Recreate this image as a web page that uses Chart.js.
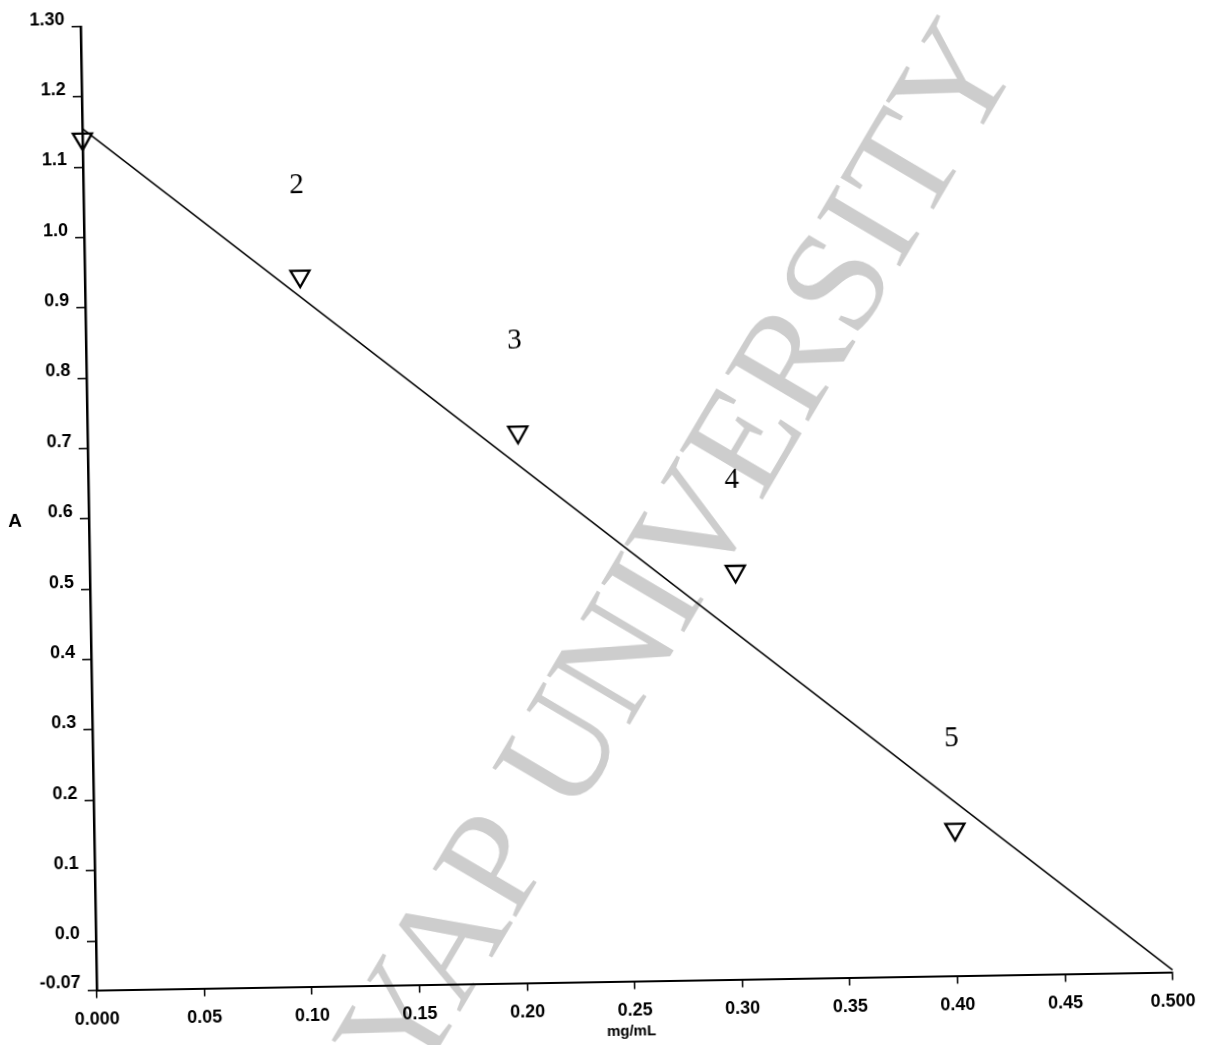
<!DOCTYPE html>
<html>
<head>
<meta charset="utf-8">
<script src="https://cdn.jsdelivr.net/npm/chart.js@4.4.0/dist/chart.umd.min.js"></script>
<style>
html, body { margin: 0; padding: 0; background: #fff; overflow: hidden; }
#absChart { display: block; transform: rotate(-0.96deg); }
</style>
</head>
<body>
<canvas id="absChart" width="1213" height="1045"></canvas>
<script>
// measured points (concentration mg/mL vs absorbance A)
const concX = [0.0, 0.10, 0.20, 0.30, 0.40];
const absY = [1.14, 0.94, 0.713, 0.51, 0.138];
const pointLabels = ['', '2', '3', '4', '5'];

// straight line drawn through the points
const fitX = [0.0, 0.5];
const fitY = [1.155, -0.067];

const xTicks = [0, 0.05, 0.10, 0.15, 0.20, 0.25, 0.30, 0.35, 0.40, 0.45, 0.50];
const xTickLabels = ['0.000', '0.05', '0.10', '0.15', '0.20', '0.25', '0.30', '0.35', '0.40', '0.45', '0.500'];
const yTicks = [-0.07, 0.0, 0.1, 0.2, 0.3, 0.4, 0.5, 0.6, 0.7, 0.8, 0.9, 1.0, 1.1, 1.2, 1.3];
const yTickLabels = ['-0.07', '0.0', '0.1', '0.2', '0.3', '0.4', '0.5', '0.6', '0.7', '0.8', '0.9', '1.0', '1.1', '1.2', '1.30'];

const sansFont = '"Liberation Sans", Arial, sans-serif';
const serifFont = '"Liberation Serif", "Times New Roman", serif';

const watermark = {
    id: 'watermark',
    beforeDraw(chart) {
        const ctx = chart.ctx;
        ctx.save();
        ctx.translate(684, 557);
        ctx.rotate(-58.5 * Math.PI / 180);
        ctx.font = '147px ' + serifFont;
        ctx.fillStyle = '#cdcdcd';
        ctx.textAlign = 'center';
        ctx.textBaseline = 'middle';
        ctx.fillText('YAP UNIVERSITY', 0, 0);
        ctx.restore();
    }
};

const pointNumbers = {
    id: 'pointNumbers',
    afterDatasetsDraw(chart) {
        const ctx = chart.ctx;
        const meta = chart.getDatasetMeta(1);
        ctx.save();
        ctx.font = '29px ' + serifFont;
        ctx.fillStyle = '#000';
        ctx.textAlign = 'center';
        ctx.textBaseline = 'middle';
        meta.data.forEach(function (pt, i) {
            if (!pointLabels[i]) return;
            ctx.fillText(pointLabels[i], pt.x - 2, pt.y - 91);
        });
        ctx.restore();
    }
};

const axisTitles = {
    id: 'axisTitles',
    afterDraw(chart) {
        const ctx = chart.ctx;
        ctx.save();
        ctx.fillStyle = '#000';
        ctx.textAlign = 'center';
        ctx.textBaseline = 'middle';
        ctx.font = 'bold 19px ' + sansFont;
        ctx.fillText('A', 15, 512);
        ctx.font = 'bold 15px ' + sansFont;
        ctx.fillText('mg/mL', 623, 1032);
        ctx.restore();
    }
};

const ctx = document.getElementById('absChart');
new Chart(ctx, {
    type: 'scatter',
    data: {
        datasets: [
            {
                label: 'fit',
                data: fitX.map((x, i) => ({ x: x, y: fitY[i] })),
                showLine: true,
                borderColor: '#000',
                borderWidth: 1.5,
                pointRadius: 0,
                clip: false
            },
            {
                label: 'A',
                data: concX.map((x, i) => ({ x: x, y: absY[i] })),
                pointStyle: 'triangle',
                pointRotation: 180,
                pointRadius: 11,
                pointBorderWidth: 2.3,
                pointBorderColor: '#000',
                pointBackgroundColor: 'rgba(0,0,0,0)',
                clip: false
            }
        ]
    },
    options: {
        responsive: false,
        animation: false,
        devicePixelRatio: 1,
        layout: { padding: { top: 16, right: 48, left: 0, bottom: 0 } },
        plugins: {
            legend: { display: false },
            tooltip: { enabled: false }
        },
        scales: {
            x: {
                type: 'linear',
                min: 0,
                max: 0.5,
                afterBuildTicks: function (scale) {
                    scale.ticks = xTicks.map(v => ({ value: v }));
                },
                afterFit: function (scale) {
                    scale.height = 63.5;
                },
                grid: { drawOnChartArea: false, drawTicks: true, tickLength: 8, color: '#000', lineWidth: 1.5 },
                border: { display: true, color: '#000', width: 2 },
                ticks: {
                    color: '#000',
                    font: { family: sansFont, size: 18, weight: 'bold' },
                    padding: 11,
                    maxRotation: 0,
                    autoSkip: false,
                    callback: (v, i) => xTickLabels[i]
                }
            },
            y: {
                type: 'linear',
                min: -0.07,
                max: 1.30,
                afterBuildTicks: function (scale) {
                    scale.ticks = yTicks.map(v => ({ value: v }));
                },
                afterFit: function (scale) {
                    scale.width = 89;
                },
                grid: { drawOnChartArea: false, drawTicks: true, tickLength: 9, color: '#000', lineWidth: 1.5 },
                border: { display: true, color: '#000', width: 2.5 },
                ticks: {
                    color: '#000',
                    font: { family: sansFont, size: 18, weight: 'bold' },
                    padding: 7,
                    labelOffset: -7,
                    autoSkip: false,
                    callback: (v, i) => yTickLabels[i]
                }
            }
        }
    },
    plugins: [watermark, pointNumbers, axisTitles]
});
</script>
</body>
</html>
